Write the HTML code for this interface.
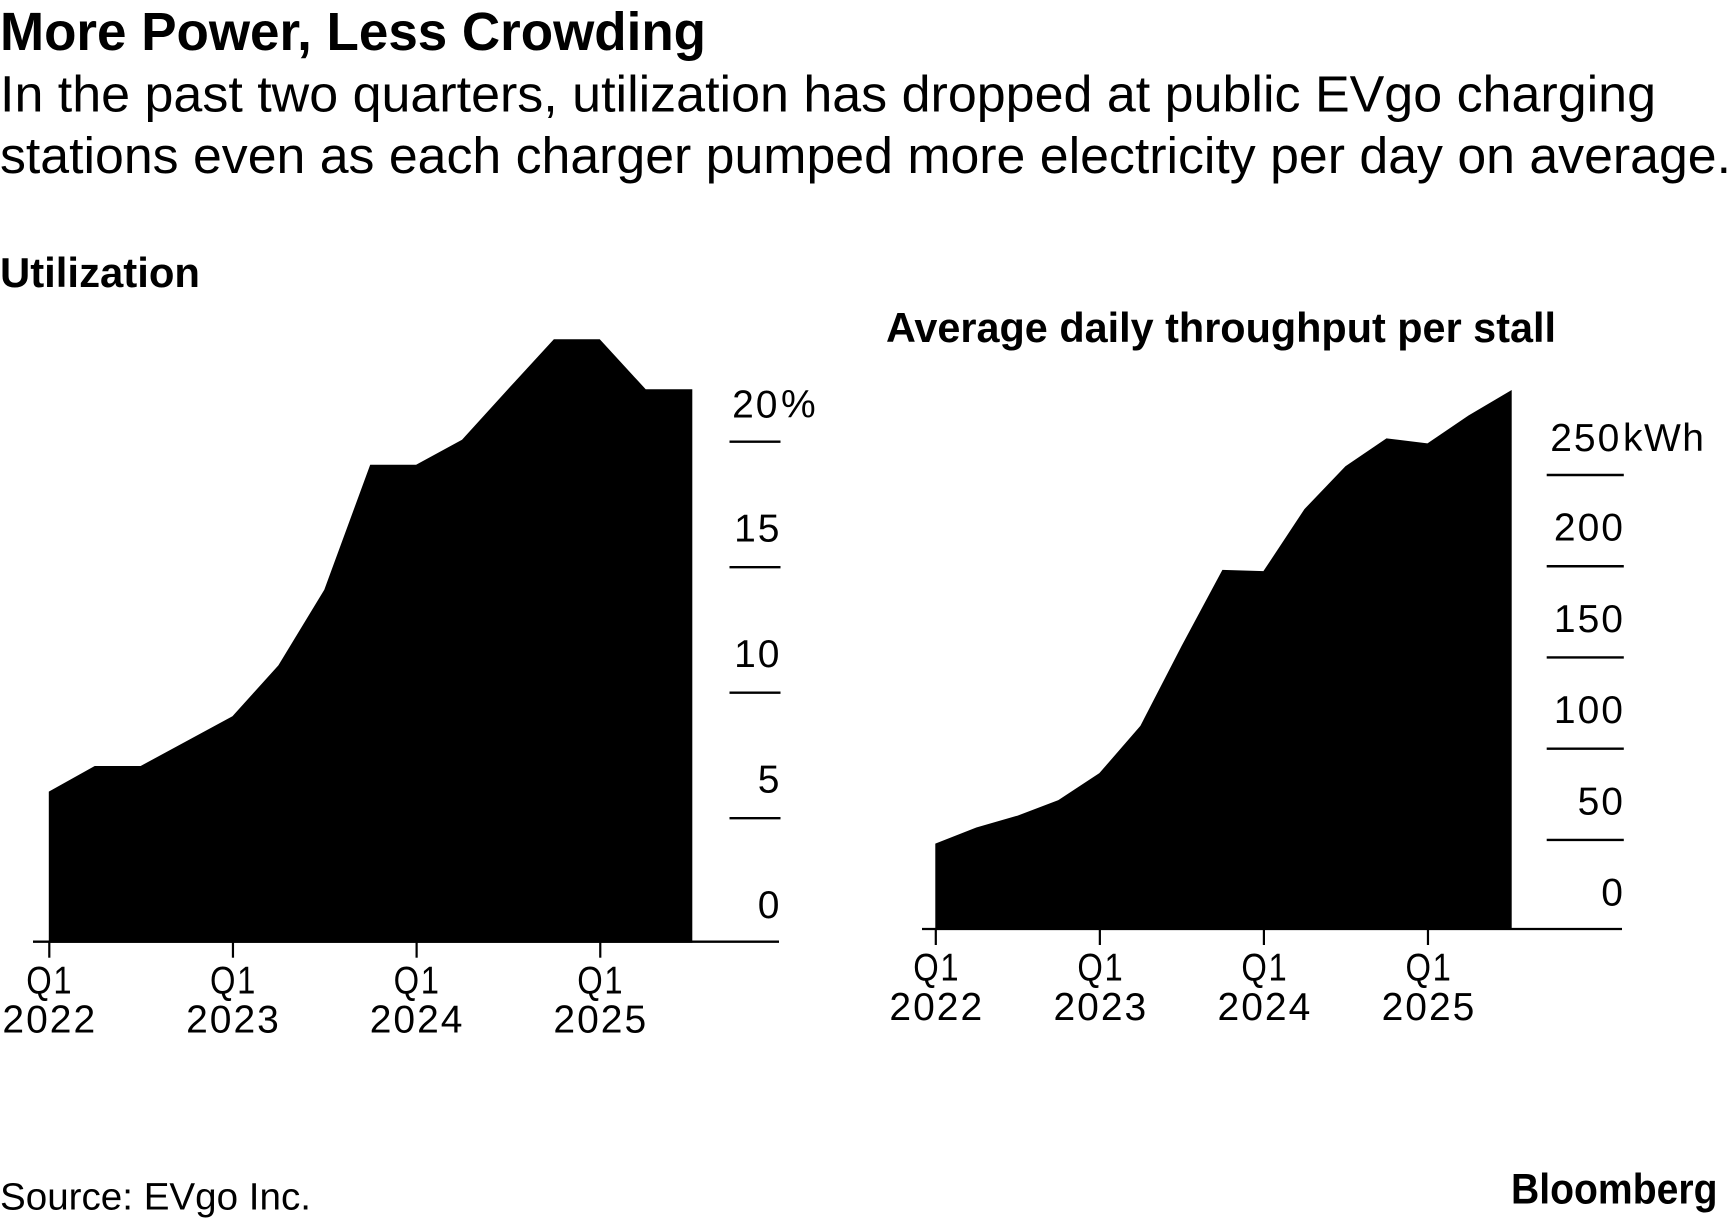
<!DOCTYPE html>
<html lang="en">
<head>
<meta charset="utf-8">
<title>More Power, Less Crowding</title>
<style>
html,body{margin:0;padding:0;background:#fff;width:1733px;height:1221px;overflow:hidden}
svg{display:block;font-family:"Liberation Sans",sans-serif;fill:#000}
.b{font-weight:700}
.tick-label{font-size:39px;letter-spacing:2px}
.unit-label{font-size:39px;letter-spacing:1.5px}
</style>
</head>
<body>
<svg id="root" width="1733" height="1221" viewBox="0 0 1733 1221" xmlns="http://www.w3.org/2000/svg">
  <text class="b" x="0" y="50" font-size="54" textLength="706" lengthAdjust="spacingAndGlyphs">More Power, Less Crowding</text>
  <text x="0" y="111.7" font-size="51" textLength="1656" lengthAdjust="spacingAndGlyphs">In the past two quarters, utilization has dropped at public EVgo charging</text>
  <text x="0" y="173" font-size="51" textLength="1731" lengthAdjust="spacingAndGlyphs">stations even as each charger pumped more electricity per day on average.</text>
  <text class="b" x="0" y="287" font-size="42" textLength="200" lengthAdjust="spacingAndGlyphs">Utilization</text>
  <text class="b" x="886" y="342" font-size="42" textLength="670" lengthAdjust="spacingAndGlyphs">Average daily throughput per stall</text>
  <g id="left"></g>
  <g id="right"></g>
  <text x="0" y="1209.5" font-size="38" textLength="311" lengthAdjust="spacingAndGlyphs">Source: EVgo Inc.</text>
  <text class="b" x="1511" y="1203.5" font-size="43" textLength="206.5" lengthAdjust="spacingAndGlyphs">Bloomberg</text>
</svg>
<script>
const quarters = ['Q1 2022','Q2 2022','Q3 2022','Q4 2022','Q1 2023','Q2 2023','Q3 2023','Q4 2023','Q1 2024','Q2 2024','Q3 2024','Q4 2024','Q1 2025','Q2 2025','Q3 2025'];
const utilizationValues = [6.06,7.08,7.08,8.07,9.06,11.09,14.1,19.08,19.08,20.08,22.09,24.08,24.08,22.09,22.09];
const utilizationTicks = [0,5,10,15,20];
const utilizationUnit = '%';
const throughputValues = [48.0,56.8,63.3,71.8,86.6,112.5,156.1,198.0,197.3,231.3,254.8,270.1,267.3,282.6,296.6];
const throughputTicks = [0,50,100,150,200,250];
const throughputUnit = 'kWh';

const NS = 'http://www.w3.org/2000/svg';
function make(parent, tag, attrs) {
  const el = document.createElementNS(NS, tag);
  for (const k in attrs) el.setAttribute(k, attrs[k]);
  parent.appendChild(el);
  return el;
}

function drawChart(group, prefix, values, ticks, unit, geo) {
  const maxTick = ticks[ticks.length - 1];
  const last = values.length - 1;
  const xScale = i => geo.x0 + (i / (quarters.length - 1)) * (geo.x1 - geo.x0);
  const yScale = v => geo.yBase - (v / maxTick) * (geo.yBase - geo.yTop);
  const areaX = i => i === last ? xScale(i) + geo.endPad : xScale(i);

  let d = 'M' + xScale(0) + ' ' + geo.areaBase;
  values.forEach((v, i) => { d += ' L' + areaX(i).toFixed(2) + ' ' + yScale(v).toFixed(2); });
  d += ' L' + areaX(last).toFixed(2) + ' ' + geo.areaBase + ' Z';
  const area = make(group, 'path', {d: d, fill: '#000'});
  
  

  const axis = make(group, 'line', {x1: geo.axisL, x2: geo.axisR, y1: geo.axisY, y2: geo.axisY, stroke: '#000', 'stroke-width': 2.3});
  
  

  ticks.forEach((t, n) => {
    const y = yScale(t);
    const isTop = n === ticks.length - 1;
    if (t !== 0) {
      const tl = make(group, 'line', {x1: geo.tickL, x2: geo.tickR, y1: y, y2: y, stroke: '#000', 'stroke-width': 2.4});
      
      
    }
    const baseline = isTop ? y - 24 : y - 25.5;
    const lab = make(group, 'text', {x: isTop ? geo.topLabelEnd : geo.labelEnd, y: baseline, 'text-anchor': 'end', class: 'tick-label'});
    lab.textContent = String(t);
    
    
    if (isTop) {
      const u = make(group, 'text', {x: geo.unitX, y: baseline, class: 'unit-label'});
      u.textContent = unit;
      
      
    }
  });

  quarters.forEach((q, i) => {
    const parts = q.split(' ');
    if (parts[0] !== 'Q1') return;
    const x = xScale(i) + 0.5;
    const tk = make(group, 'line', {x1: x, x2: x, y1: geo.axisY, y2: geo.axisY + 16, stroke: '#000', 'stroke-width': 2.2});
    
    
    const l1 = make(group, 'text', {x: x + geo.labelNudge, y: geo.axisY + 51.6, 'text-anchor': 'middle', class: 'tick-label', textLength: 47, lengthAdjust: 'spacingAndGlyphs'});
    l1.textContent = parts[0];
    
    
    const l2 = make(group, 'text', {x: x + geo.labelNudge, y: geo.axisY + 90.8, 'text-anchor': 'middle', class: 'tick-label'});
    l2.textContent = parts[1];
    
    
  });
}

drawChart(document.getElementById('left'), 'utilization', utilizationValues, utilizationTicks, utilizationUnit,
  {x0: 48.8, x1: 691.6, endPad: 0.7, labelNudge: 0.5, yBase: 943.7, yTop: 441.7, areaBase: 942.7, axisY: 941.7, axisL: 33, axisR: 779, tickL: 729.5, tickR: 780.5, labelEnd: 781.5, topLabelEnd: 779.5, unitX: 781});
drawChart(document.getElementById('right'), 'throughput', throughputValues, throughputTicks, throughputUnit,
  {x0: 935.3, x1: 1509.5, endPad: 2.2, labelNudge: 1, yBase: 931.2, yTop: 475, areaBase: 930, axisY: 929, axisL: 922, axisR: 1622, tickL: 1546.7, tickR: 1623.8, labelEnd: 1625, topLabelEnd: 1621.3, unitX: 1623});
</script>
</body>
</html>
